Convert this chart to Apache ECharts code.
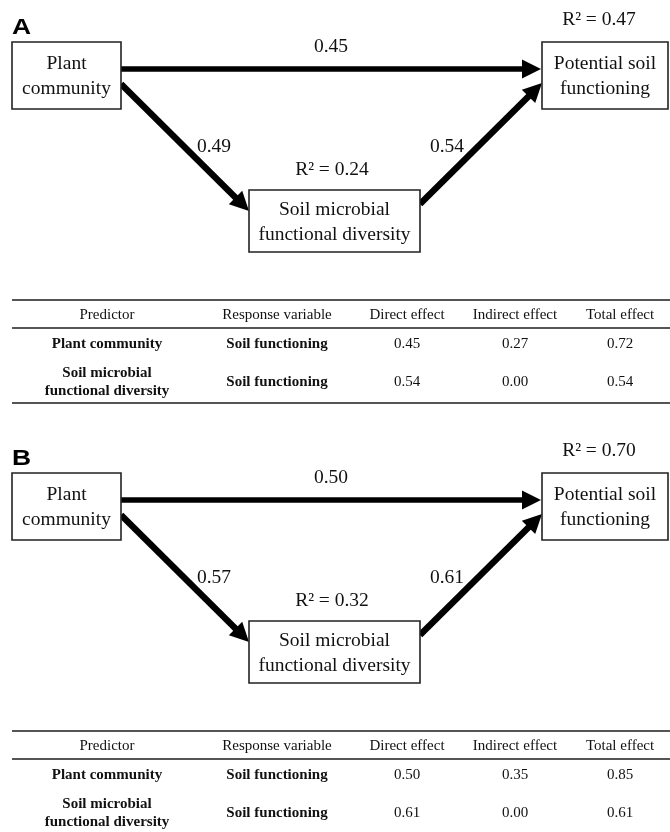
<!DOCTYPE html>
<html>
<head>
<meta charset="utf-8">
<script src="https://cdn.jsdelivr.net/npm/echarts@6/dist/echarts.min.js"></script>
<style>
  html, body { margin: 0; padding: 0; background: #fff; }
  #main { width: 670px; height: 832px; }
</style>
</head>
<body>
<div id="main"></div>
<script>
// path model values
var panels = ['A', 'B'];
var nodeNames = ['Plant\ncommunity', 'Potential soil\nfunctioning', 'Soil microbial\nfunctional diversity'];
var pathFrom = [0, 0, 2];
var pathTo = [1, 2, 1];
var coefA = [0.45, 0.49, 0.54];
var coefB = [0.50, 0.57, 0.61];
var r2A = [null, 0.47, 0.24];
var r2B = [null, 0.70, 0.32];

// table values
var tableHeader = ['Predictor', 'Response variable', 'Direct effect', 'Indirect effect', 'Total effect'];
var predictors = ['Plant community', 'Soil microbial\nfunctional diversity'];
var responses = ['Soil functioning', 'Soil functioning'];
var directA = [0.45, 0.54];
var indirectA = [0.27, 0.00];
var totalA = [0.72, 0.54];
var directB = [0.50, 0.61];
var indirectB = [0.35, 0.00];
var totalB = [0.85, 0.61];

// layout (pixels, panel A; panel B is shifted down)
var panelTop = [0, 431];
var boxes = [
    {x: 12, y: 42, w: 109, h: 67},
    {x: 542, y: 42, w: 126, h: 67},
    {x: 249, y: 190, w: 171, h: 62}
];
var arrowEnds = [
    [[121, 69], [541, 69]],
    [[121, 84], [249, 211]],
    [[420, 204], [542, 83]]
];
var arrowWidth = [5.5, 6.5, 6.5];
var coefPos = [[331, 47], [214, 147], [447, 147]];
var r2Pos = [null, [599, 20], [332, 170]];
var tableTop = [300, 731];
var colX = [107, 277, 407, 515, 620];

var serif = 'Liberation Serif';
var ink = '#111';
var headLen = 19;

var coefs = [coefA, coefB];
var r2s = [r2A, r2B];

var lineData = [];
var labelData = [];
panels.forEach(function (p, pi) {
    var dy = panelTop[pi];
    pathFrom.forEach(function (f, k) {
        var s = arrowEnds[k][0], t = arrowEnds[k][1];
        var dx = t[0] - s[0], dd = t[1] - s[1];
        var len = Math.sqrt(dx * dx + dd * dd);
        // triangle symbol is centred on the end point, pull it back by half its length
        var ex = t[0] - dx / len * headLen / 2, ey = t[1] - dd / len * headLen / 2;
        lineData.push({
            coords: [[s[0], s[1] + dy], [ex, ey + dy]],
            lineStyle: {width: arrowWidth[k]}
        });
        labelData.push({value: [coefPos[k][0], coefPos[k][1] + dy], name: coefs[pi][k].toFixed(2)});
    });
    r2s[pi].forEach(function (r, n) {
        if (r === null) return;
        labelData.push({value: [r2Pos[n][0], r2Pos[n][1] + dy], name: 'R\u00b2 = ' + r.toFixed(2)});
    });
});

var boxData = [];
panels.forEach(function (p, pi) {
    nodeNames.forEach(function (n, ni) { boxData.push([pi, ni]); });
});

function txt(x, y, s, size, weight) {
    return {
        type: 'text', x: x, y: y, z: 10,
        style: {
            text: s, fontFamily: serif, fontSize: size, fontWeight: weight || 'normal',
            lineHeight: 17.5, fill: ink, align: 'center', verticalAlign: 'middle'
        }
    };
}
function hline(y) {
    return {
        type: 'line', z: 10,
        shape: {x1: 12, y1: y, x2: 670, y2: y},
        style: {stroke: '#555', lineWidth: 2}
    };
}

function tableGraphics(top, direct, indirect, total) {
    var g = [hline(top), hline(top + 28), hline(top + 103)];
    tableHeader.forEach(function (h, i) {
        g.push(txt(colX[i], top + 15, h, 15));
    });
    var rowY = [top + 44.5, top + 82];
    predictors.forEach(function (pr, r) {
        g.push(txt(colX[0], rowY[r], pr, 15, 'bold'));
        g.push(txt(colX[1], rowY[r], responses[r], 15, 'bold'));
        g.push(txt(colX[2], rowY[r], direct[r].toFixed(2), 15));
        g.push(txt(colX[3], rowY[r], indirect[r].toFixed(2), 15));
        g.push(txt(colX[4], rowY[r], total[r].toFixed(2), 15));
    });
    return g;
}

var graphics = [];
panels.forEach(function (p, pi) {
    graphics.push({
        type: 'text', x: 12, y: 28 + panelTop[pi], scaleX: 1.2, z: 10,
        style: {
            text: p, fontFamily: 'Liberation Sans', fontWeight: 'bold', fontSize: 22,
            fill: '#000', align: 'left', verticalAlign: 'middle'
        }
    });
});
graphics = graphics.concat(tableGraphics(tableTop[0], directA, indirectA, totalA));
graphics = graphics.concat(tableGraphics(tableTop[1], directB, indirectB, totalB));

var myChart = echarts.init(document.getElementById('main'));
var option = {
    backgroundColor: '#fff',
    animation: false,
    grid: {left: 0, right: 0, top: 0, bottom: 0},
    xAxis: {type: 'value', min: 0, max: 670, show: false},
    yAxis: {type: 'value', min: 0, max: 832, inverse: true, show: false},
    graphic: graphics,
    series: [
        {
            type: 'lines',
            coordinateSystem: 'cartesian2d',
            z: 2,
            symbol: ['none', 'triangle'],
            symbolSize: [16, headLen],
            lineStyle: {color: '#000', width: 5.5, opacity: 1, curveness: 0},
            data: lineData
        },
        {
            type: 'custom',
            z: 3,
            data: boxData,
            renderItem: function (params, api) {
                var pi = api.value(0), ni = api.value(1);
                var b = boxes[ni];
                var tl = api.coord([b.x, b.y + panelTop[pi]]);
                var br = api.coord([b.x + b.w, b.y + b.h + panelTop[pi]]);
                return {
                    type: 'group',
                    children: [
                        {
                            type: 'rect',
                            shape: {x: tl[0], y: tl[1], width: br[0] - tl[0], height: br[1] - tl[1]},
                            style: {fill: '#fff', stroke: '#222', lineWidth: 1.6}
                        },
                        {
                            type: 'text',
                            x: (tl[0] + br[0]) / 2, y: (tl[1] + br[1]) / 2 + 1,
                            style: {
                                text: nodeNames[ni], fontFamily: serif, fontSize: 19.5, lineHeight: 25,
                                fill: ink, align: 'center', verticalAlign: 'middle'
                            }
                        }
                    ]
                };
            }
        },
        {
            type: 'scatter',
            z: 4,
            symbolSize: 0,
            itemStyle: {color: 'transparent', opacity: 1},
            data: labelData,
            label: {
                show: true, position: 'inside', opacity: 1,
                formatter: function (d) { return d.name; },
                fontFamily: serif, fontSize: 19.5, color: ink,
                textBorderWidth: 0, textBorderColor: 'transparent'
            }
        }
    ]
};
myChart.setOption(option);
</script>
</body>
</html>
